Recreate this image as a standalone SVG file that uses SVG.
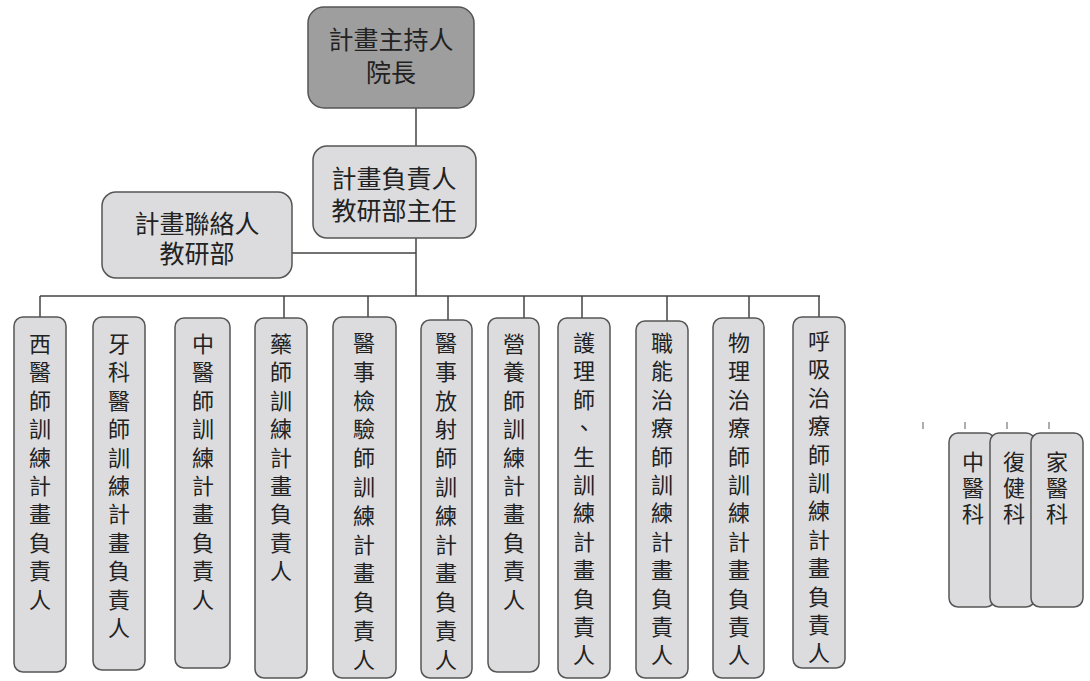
<svg xmlns="http://www.w3.org/2000/svg" width="1090" height="681" viewBox="0 0 1090 681">
<style>
.box{fill:#dcdcde;stroke:#555;stroke-width:1.5}
.dark{fill:#9e9e9e;stroke:#555;stroke-width:1.5}
.t{font-family:"Noto Sans CJK TC","Noto Sans CJK SC",sans-serif;font-size:25px;fill:#222;text-anchor:middle;dominant-baseline:central}
.v{font-family:"Noto Sans CJK TC","Noto Sans CJK SC",sans-serif;font-size:22px;fill:#222;text-anchor:middle;dominant-baseline:central}
.c{stroke:#444;stroke-width:1.5;fill:none}
.tick{stroke:#777;stroke-width:1.2}
</style>
<rect width="1090" height="681" fill="#ffffff"/>
<g id="connectors">
<path class="c" d="M416 108 V146 M416 238 V296 M292 253 H416 M40 296 H820"/>
<path class="c" d="M40 296 V317 M284 296 V318 M368 296 V317 M448 296 V320 M524 296 V318 M582 296 V318 M667 296 V321 M749 296 V318 M819 296 V317"/>
<path class="tick" d="M923 422 V429 M965 422 V429 M1007 422 V429 M1049 422 V429"/>
</g>
<g id="pi">
<rect class="dark" x="308" y="7" width="166" height="101" rx="16"/>
<text class="t" x="391" y="38">計畫主持人</text>
<text class="t" x="391" y="71">院長</text>
</g>
<g id="head">
<rect class="box" x="313" y="146" width="163" height="92" rx="14"/>
<text class="t" x="394" y="177">計畫負責人</text>
<text class="t" x="394" y="209">教研部主任</text>
</g>
<g id="contact">
<rect class="box" x="102" y="192" width="190" height="86" rx="14"/>
<text class="t" x="197" y="222">計畫聯絡人</text>
<text class="t" x="197" y="252">教研部</text>
</g>
<g id="n1">
<rect class="box" x="14" y="317" width="52" height="355" rx="9"/>
<text class="v" x="40"><tspan x="40" y="342">西</tspan><tspan x="40" y="370.4">醫</tspan><tspan x="40" y="398.8">師</tspan><tspan x="40" y="427.2">訓</tspan><tspan x="40" y="455.6">練</tspan><tspan x="40" y="484">計</tspan><tspan x="40" y="512.4">畫</tspan><tspan x="40" y="540.8">負</tspan><tspan x="40" y="569.2">責</tspan><tspan x="40" y="597.6">人</tspan></text>
</g>
<g id="n2">
<rect class="box" x="93" y="317" width="52" height="353" rx="9"/>
<text class="v"><tspan x="119" y="342">牙</tspan><tspan x="119" y="370.4">科</tspan><tspan x="119" y="398.8">醫</tspan><tspan x="119" y="427.2">師</tspan><tspan x="119" y="455.6">訓</tspan><tspan x="119" y="484">練</tspan><tspan x="119" y="512.4">計</tspan><tspan x="119" y="540.8">畫</tspan><tspan x="119" y="569.2">負</tspan><tspan x="119" y="597.6">責</tspan><tspan x="119" y="626">人</tspan></text>
</g>
<g id="n3">
<rect class="box" x="175" y="318" width="55" height="350" rx="9"/>
<text class="v"><tspan x="203" y="342">中</tspan><tspan x="203" y="370.4">醫</tspan><tspan x="203" y="398.8">師</tspan><tspan x="203" y="427.2">訓</tspan><tspan x="203" y="455.6">練</tspan><tspan x="203" y="484">計</tspan><tspan x="203" y="512.4">畫</tspan><tspan x="203" y="540.8">負</tspan><tspan x="203" y="569.2">責</tspan><tspan x="203" y="597.6">人</tspan></text>
</g>
<g id="n4">
<rect class="box" x="255" y="318" width="52" height="360" rx="9"/>
<text class="v"><tspan x="281" y="342">藥</tspan><tspan x="281" y="370.4">師</tspan><tspan x="281" y="398.8">訓</tspan><tspan x="281" y="427.2">練</tspan><tspan x="281" y="455.6">計</tspan><tspan x="281" y="484">畫</tspan><tspan x="281" y="512.4">負</tspan><tspan x="281" y="540.8">責</tspan><tspan x="281" y="569.2">人</tspan></text>
</g>
<g id="n5">
<rect class="box" x="333" y="317" width="63" height="361" rx="9"/>
<text class="v"><tspan x="364" y="341">醫</tspan><tspan x="364" y="369.8">事</tspan><tspan x="364" y="398.6">檢</tspan><tspan x="364" y="427.4">驗</tspan><tspan x="364" y="456.2">師</tspan><tspan x="364" y="485">訓</tspan><tspan x="364" y="513.8">練</tspan><tspan x="364" y="542.6">計</tspan><tspan x="364" y="571.4">畫</tspan><tspan x="364" y="600.2">負</tspan><tspan x="364" y="629">責</tspan><tspan x="364" y="657.8">人</tspan></text>
</g>
<g id="n6">
<rect class="box" x="421" y="320" width="51" height="358" rx="9"/>
<text class="v"><tspan x="446" y="341">醫</tspan><tspan x="446" y="369.8">事</tspan><tspan x="446" y="398.6">放</tspan><tspan x="446" y="427.4">射</tspan><tspan x="446" y="456.2">師</tspan><tspan x="446" y="485">訓</tspan><tspan x="446" y="513.8">練</tspan><tspan x="446" y="542.6">計</tspan><tspan x="446" y="571.4">畫</tspan><tspan x="446" y="600.2">負</tspan><tspan x="446" y="629">責</tspan><tspan x="446" y="657.8">人</tspan></text>
</g>
<g id="n7">
<rect class="box" x="488" y="318" width="51" height="354" rx="9"/>
<text class="v"><tspan x="514" y="342">營</tspan><tspan x="514" y="370.4">養</tspan><tspan x="514" y="398.8">師</tspan><tspan x="514" y="427.2">訓</tspan><tspan x="514" y="455.6">練</tspan><tspan x="514" y="484">計</tspan><tspan x="514" y="512.4">畫</tspan><tspan x="514" y="540.8">負</tspan><tspan x="514" y="569.2">責</tspan><tspan x="514" y="597.6">人</tspan></text>
</g>
<g id="n8">
<rect class="box" x="558" y="318" width="52" height="360" rx="9"/>
<text class="v"><tspan x="584" y="341">護</tspan><tspan x="584" y="369.4">理</tspan><tspan x="584" y="397.8">師</tspan><tspan x="584" y="426.2">、</tspan><tspan x="584" y="454.6">生</tspan><tspan x="584" y="483">訓</tspan><tspan x="584" y="511.4">練</tspan><tspan x="584" y="539.8">計</tspan><tspan x="584" y="568.2">畫</tspan><tspan x="584" y="596.6">負</tspan><tspan x="584" y="625">責</tspan><tspan x="584" y="653.4">人</tspan></text>
</g>
<g id="n9">
<rect class="box" x="636" y="321" width="52" height="357" rx="9"/>
<text class="v"><tspan x="662" y="341">職</tspan><tspan x="662" y="369.4">能</tspan><tspan x="662" y="397.8">治</tspan><tspan x="662" y="426.2">療</tspan><tspan x="662" y="454.6">師</tspan><tspan x="662" y="483">訓</tspan><tspan x="662" y="511.4">練</tspan><tspan x="662" y="539.8">計</tspan><tspan x="662" y="568.2">畫</tspan><tspan x="662" y="596.6">負</tspan><tspan x="662" y="625">責</tspan><tspan x="662" y="653.4">人</tspan></text>
</g>
<g id="n10">
<rect class="box" x="713" y="318" width="51" height="360" rx="9"/>
<text class="v"><tspan x="739" y="341">物</tspan><tspan x="739" y="369.4">理</tspan><tspan x="739" y="397.8">治</tspan><tspan x="739" y="426.2">療</tspan><tspan x="739" y="454.6">師</tspan><tspan x="739" y="483">訓</tspan><tspan x="739" y="511.4">練</tspan><tspan x="739" y="539.8">計</tspan><tspan x="739" y="568.2">畫</tspan><tspan x="739" y="596.6">負</tspan><tspan x="739" y="625">責</tspan><tspan x="739" y="653.4">人</tspan></text>
</g>
<g id="n11">
<rect class="box" x="793" y="317" width="52" height="351" rx="9"/>
<text class="v"><tspan x="819" y="339">呼</tspan><tspan x="819" y="367.4">吸</tspan><tspan x="819" y="395.8">治</tspan><tspan x="819" y="424.2">療</tspan><tspan x="819" y="452.6">師</tspan><tspan x="819" y="481">訓</tspan><tspan x="819" y="509.4">練</tspan><tspan x="819" y="537.8">計</tspan><tspan x="819" y="566.2">畫</tspan><tspan x="819" y="594.6">負</tspan><tspan x="819" y="623">責</tspan><tspan x="819" y="651.4">人</tspan></text>
</g>
<g id="s1">
<rect class="box" x="949" y="433" width="46" height="174" rx="9"/>
<text class="v"><tspan x="973" y="460">中</tspan><tspan x="973" y="486">醫</tspan><tspan x="973" y="512">科</tspan></text>
</g>
<g id="s2">
<rect class="box" x="990" y="433" width="45" height="174" rx="9"/>
<text class="v"><tspan x="1014" y="460">復</tspan><tspan x="1014" y="486">健</tspan><tspan x="1014" y="512">科</tspan></text>
</g>
<g id="s3">
<rect class="box" x="1031" y="433" width="52" height="174" rx="9"/>
<text class="v"><tspan x="1057" y="460">家</tspan><tspan x="1057" y="486">醫</tspan><tspan x="1057" y="512">科</tspan></text>
</g>
</svg>
